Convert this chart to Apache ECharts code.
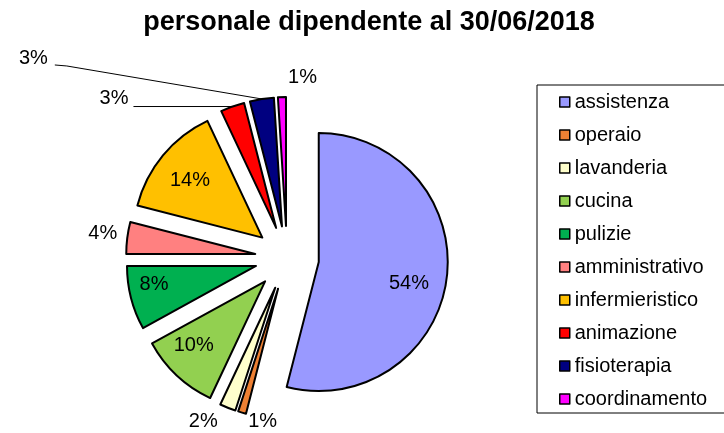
<!DOCTYPE html>
<html>
<head>
<meta charset="utf-8">
<script src="https://cdn.jsdelivr.net/npm/echarts@6/dist/echarts.min.js"></script>
<style>
  html, body { margin: 0; padding: 0; background: #ffffff; }
  #chart { width: 724px; height: 433px; }
</style>
</head>
<body>
<div id="chart"></div>
<script>
// Staff breakdown (percent of employees) at 30/06/2018
const titleText = 'personale dipendente al 30/06/2018';
const categories = ['assistenza', 'operaio', 'lavanderia', 'cucina', 'pulizie',
  'amministrativo', 'infermieristico', 'animazione', 'fisioterapia', 'coordinamento'];
const shares = [54, 1, 2, 10, 8, 4, 14, 3, 3, 1];
const sliceColors = ['#9999FF', '#EE8033', '#FFFFCC', '#92D050', '#00B050',
  '#FF8080', '#FFC000', '#FF0000', '#000080', '#FF00FF'];
const insideLabelSlices = ['assistenza', 'cucina', 'pulizie', 'infermieristico'];
const leaderLineSlices = ['animazione', 'fisioterapia'];

const FONT = '"Liberation Sans", Arial, Helvetica, sans-serif';
const pieCenter = [287, 258];
const pieRadius = 129;
const explodeOffset = 32;

// small shifts [dx, dy] applied to the percentage labels
const labelNudge = {
  assistenza: [-3, 10],
  cucina: [-7, -4],
  pulizie: [-11, -5],
  infermieristico: [0, 3],
  operaio: [35, 9],
  lavanderia: [-10, 14],
  amministrativo: [-10, -4],
  coordinamento: [35, -20],
  animazione: [0, -8],
  fisioterapia: [-214, -40]
};
// bend of the fisioterapia leader line, relative to where it leaves the slice
const leaderBend = {
  fisioterapia: [[-195, -33], [-207, -34]]
};

const sliceStyle = { borderColor: '#000000', borderWidth: 2 };

function nudgeLabel(p) {
  const name = categories[p.dataIndex];
  const nudge = labelNudge[name];
  if (!nudge) return {};
  const out = { dx: nudge[0], dy: nudge[1] };
  const pts = p.labelLinePoints;
  if (pts && pts.length) {
    const bend = leaderBend[name];
    if (bend) {
      const s = pts[0];
      out.labelLinePoints = [s].concat(bend.map(function (b) {
        return [s[0] + b[0], s[1] + b[1]];
      }));
    } else {
      out.labelLinePoints = pts;
    }
  }
  return out;
}

const mainData = categories.map(function (name, i) {
  const outside = insideLabelSlices.indexOf(name) < 0;
  const withLine = leaderLineSlices.indexOf(name) >= 0;
  return {
    name: name,
    value: shares[i],
    selected: true,
    itemStyle: { color: sliceColors[i] },
    label: {
      show: outside,
      position: 'outside',
      distanceToLabelLine: name === 'animazione' ? 5 : 0
    },
    labelLine: {
      show: withLine,
      length: 0,
      length2: name === 'animazione' ? 99 : 0,
      lineStyle: { color: '#000000', width: 1 }
    }
  };
});

const labelData = categories.map(function (name, i) {
  return {
    name: name,
    value: shares[i],
    selected: true,
    label: { show: insideLabelSlices.indexOf(name) >= 0 }
  };
});

const chart = echarts.init(document.getElementById('chart'), null, { renderer: 'canvas' });

chart.setOption({
  animation: false,
  backgroundColor: '#ffffff',
  title: {
    text: titleText,
    left: 364,
    textAlign: 'center',
    top: 4,
    textStyle: { fontFamily: FONT, fontSize: 27, fontWeight: 'bold', color: '#000000' }
  },
  legend: {
    orient: 'vertical',
    left: 537,
    top: 85,
    data: categories,
    selectedMode: false,
    backgroundColor: '#ffffff',
    borderColor: '#000000',
    borderWidth: 1,
    padding: [7, 20, 4, 22],
    itemGap: 13,
    itemWidth: 10,
    itemHeight: 10,
    icon: 'rect',
    itemStyle: { borderColor: '#000000', borderWidth: 1.5 },
    textStyle: { fontFamily: FONT, fontSize: 20, lineHeight: 20, color: '#000000' }
  },
  series: [
    {
      name: 'personale',
      type: 'pie',
      center: pieCenter,
      radius: [0, pieRadius],
      startAngle: 90,
      clockwise: true,
      selectedMode: 'multiple',
      selectedOffset: explodeOffset,
      avoidLabelOverlap: false,
      silent: true,
      emphasis: { disabled: true },
      itemStyle: sliceStyle,
      select: { itemStyle: sliceStyle },
      label: {
        formatter: '{c}%',
        fontFamily: FONT,
        fontSize: 20,
        color: '#000000'
      },
      labelLayout: nudgeLabel,
      data: mainData
    },
    {
      // carries the percentages printed inside the larger slices
      name: 'etichette',
      type: 'pie',
      center: pieCenter,
      radius: [53, pieRadius],
      startAngle: 90,
      clockwise: true,
      selectedMode: 'multiple',
      selectedOffset: explodeOffset,
      avoidLabelOverlap: false,
      silent: true,
      emphasis: { disabled: true },
      itemStyle: { color: 'rgba(0,0,0,0)', borderWidth: 0 },
      select: { itemStyle: { color: 'rgba(0,0,0,0)', borderWidth: 0 } },
      label: {
        position: 'inside',
        formatter: '{c}%',
        fontFamily: FONT,
        fontSize: 20,
        color: '#000000'
      },
      labelLine: { show: false },
      labelLayout: nudgeLabel,
      data: labelData
    }
  ]
});
</script>
</body>
</html>
